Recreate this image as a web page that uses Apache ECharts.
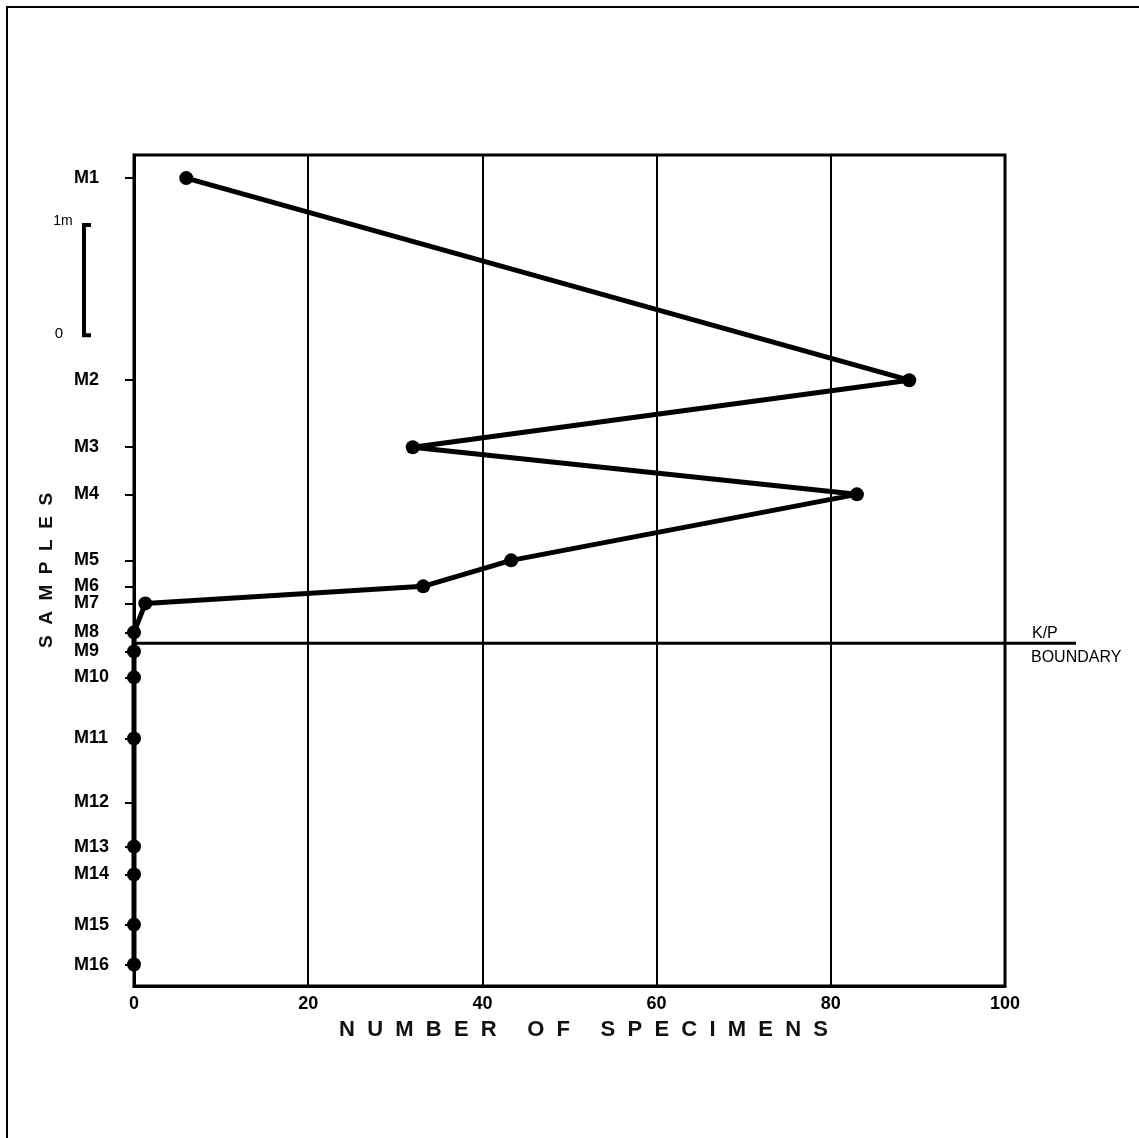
<!DOCTYPE html>
<html>
<head>
<meta charset="utf-8">
<script src="https://cdn.jsdelivr.net/npm/echarts@6/dist/echarts.min.js"></script>
<style>
html,body{margin:0;padding:0;background:#fff;}
#chart{width:1139px;height:1138px;}
</style>
</head>
<body>
<div id="chart"></div>
<script>
// Sample names and their depth positions (m below M1)
const samples = ['M1','M2','M3','M4','M5','M6','M7','M8','M9','M10','M11','M12','M13','M14','M15','M16'];
const depths  = [0, 1.836, 2.445, 2.873, 3.473, 3.709, 3.864, 4.127, 4.300, 4.536, 5.091, 5.673, 6.073, 6.327, 6.782, 7.145];
// Number of specimens per sample (M12 no point plotted)
const specimens = [6, 89, 32, 83, 43.3, 33.2, 1.3, 0, 0, 0, 0, null, 0, 0, 0, 0];
const xTicks = [0, 20, 40, 60, 80, 100];
const boundaryDepth = 4.227;
const scaleBar = [0.427, 1.427]; // 1 m scale bar
const depthRange = [-0.21, 7.34];

const chart = echarts.init(document.getElementById('chart'));
const labelMap = {};
depths.forEach((d, i) => { labelMap[d.toFixed(3)] = samples[i]; });

const seriesData = specimens.map((v, i) => [v, depths[i]]);

chart.setOption({
  animation: false,
  backgroundColor: '#fff',
  grid: { left: 134, right: 134, top: 155, bottom: 152, show: true, borderColor: '#000', borderWidth: 3 },
  xAxis: {
    type: 'value', min: xTicks[0], max: xTicks[xTicks.length - 1], interval: 20,
    axisLine: { show: true, onZero: false, lineStyle: { color: '#000', width: 3 } },
    axisTick: { show: false },
    splitLine: { show: true, lineStyle: { color: '#000', width: 2 } },
    axisLabel: { color: '#000', fontFamily: 'Liberation Sans', fontWeight: 'bold', fontSize: 18, margin: 9 },
    name: 'N  U  M  B  E  R     O  F     S  P  E  C  I  M  E  N  S',
    nameLocation: 'middle', nameGap: 33,
    nameTextStyle: { color: '#111', fontFamily: 'Liberation Sans', fontWeight: 'bold', fontSize: 22, padding: [0, 0, 0, 28] }
  },
  yAxis: {
    type: 'value', inverse: true, min: depthRange[0], max: depthRange[1],
    axisLine: { show: true, onZero: false, lineStyle: { color: '#000', width: 3 } },
    axisTick: { show: true, length: 9, customValues: depths, lineStyle: { color: '#000', width: 2 } },
    splitLine: { show: false },
    axisLabel: {
      customValues: depths, align: 'left', margin: 60,
      color: '#000', fontFamily: 'Liberation Sans', fontWeight: 'bold', fontSize: 18,
      formatter: v => labelMap[Number(v).toFixed(3)] || ''
    },
    name: 'S  A  M  P  L  E  S', nameLocation: 'middle', nameGap: 78, nameRotate: 90,
    nameTextStyle: { color: '#111', fontFamily: 'Liberation Sans', fontWeight: 'bold', fontSize: 19 }
  },
  series: [{
    type: 'line', data: seriesData, connectNulls: true,
    symbol: 'circle', symbolSize: 14,
    lineStyle: { color: '#000', width: 5 },
    itemStyle: { color: '#000' },
    clip: false
  }]
});

function drawGraphics() {
  const yB = chart.convertToPixel({ yAxisIndex: 0 }, boundaryDepth);
  const x0 = chart.convertToPixel({ xAxisIndex: 0 }, 0);
  const s1 = chart.convertToPixel({ yAxisIndex: 0 }, scaleBar[0]);
  const s0 = chart.convertToPixel({ yAxisIndex: 0 }, scaleBar[1]);
  chart.setOption({
    graphic: [
      { type: 'rect', shape: { x: 7, y: 7, width: 1300, height: 1300 }, style: { fill: null, stroke: '#000', lineWidth: 2 }, silent: true },
      { type: 'line', shape: { x1: x0, y1: yB, x2: 1076, y2: yB }, style: { stroke: '#000', lineWidth: 3 } },
      { type: 'text', x: 1032, y: yB - 2, style: { text: 'K/P', fill: '#000', font: '16px "Liberation Sans"', verticalAlign: 'bottom' } },
      { type: 'text', x: 1031, y: yB + 6, style: { text: 'BOUNDARY', fill: '#000', font: '16px "Liberation Sans"', verticalAlign: 'top' } },
      { type: 'polyline', shape: { points: [[91, s1], [84, s1], [84, s0], [91, s0]] }, style: { stroke: '#000', lineWidth: 4, fill: null } },
      { type: 'text', x: 63, y: s1 - 4, style: { text: '1m', fill: '#000', font: '14px "Liberation Sans"', align: 'center', verticalAlign: 'middle' } },
      { type: 'text', x: 59, y: s0 - 1, style: { text: '0', fill: '#000', font: '15px "Liberation Sans"', align: 'center', verticalAlign: 'middle' } }
    ]
  });
}
drawGraphics();
</script>
</body>
</html>
